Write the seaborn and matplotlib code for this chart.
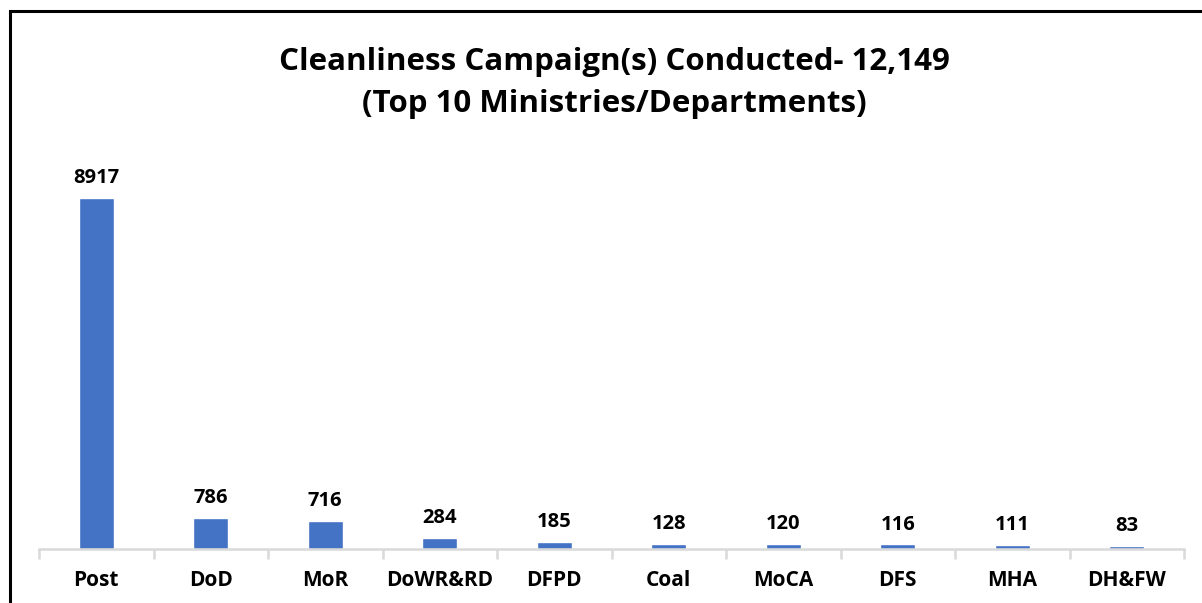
import matplotlib
matplotlib.use('Agg')
import matplotlib.pyplot as plt
import seaborn as sns
import pandas as pd
import numpy as np
from matplotlib.patches import Rectangle

departments = ['Post', 'DoD', 'MoR', 'DoWR&RD', 'DFPD', 'Coal', 'MoCA', 'DFS', 'MHA', 'DH&FW']
campaigns = [8917, 786, 716, 284, 185, 128, 120, 116, 111, 83]
title = 'Cleanliness Campaign(s) Conducted- 12,149\n(Top 10 Ministries/Departments)'

df = pd.DataFrame({'dept': departments, 'count': campaigns})

sns.set_style('white')
plt.rcParams['font.family'] = ['Open Sans', 'DejaVu Sans']

fig = plt.figure(figsize=(12.02, 6.03), dpi=100)
ax = fig.add_axes([39 / 1202, (603 - 549) / 603, 1145 / 1202, 394 / 603])

sns.barplot(data=df, x='dept', y='count', color='#4472C4', width=0.31,
            saturation=1, ax=ax)

ax.set_ylim(0, 10000)
ax.set_xlim(-0.5, len(departments) - 0.5)
for i, v in enumerate(campaigns):
    ax.text(i, v + 250, str(v), ha='center', va='bottom',
            fontsize=14.5, fontweight='bold', color='black')

ax.set_xlabel('')
ax.set_ylabel('')
ax.set_yticks([])
ax.tick_params(axis='x', which='major', length=0, pad=15, labelsize=15,
               labelcolor='black')
for lbl in ax.get_xticklabels():
    lbl.set_fontweight('bold')
# small separators between categories, as in the original
ax.set_xticks(np.arange(-0.5, len(departments)), minor=True)
ax.tick_params(axis='x', which='minor', bottom=True, length=7, width=1.8,
               color='#d9d9d9')
for side in ['top', 'right', 'left']:
    ax.spines[side].set_visible(False)
ax.spines['bottom'].set_color('#d9d9d9')
ax.spines['bottom'].set_linewidth(1.8)

fig.text(0.511, 0.862, title, ha='center', va='center', fontsize=22.5,
         fontweight='bold', linespacing=1.5, color='black')

fig.patches.append(Rectangle((10 / 1202, -0.1), 1.2, (603 - 11) / 603 + 0.1,
                             transform=fig.transFigure, fill=False,
                             edgecolor='black', linewidth=2.2, zorder=10))

plt.savefig('out.png', dpi=100)
